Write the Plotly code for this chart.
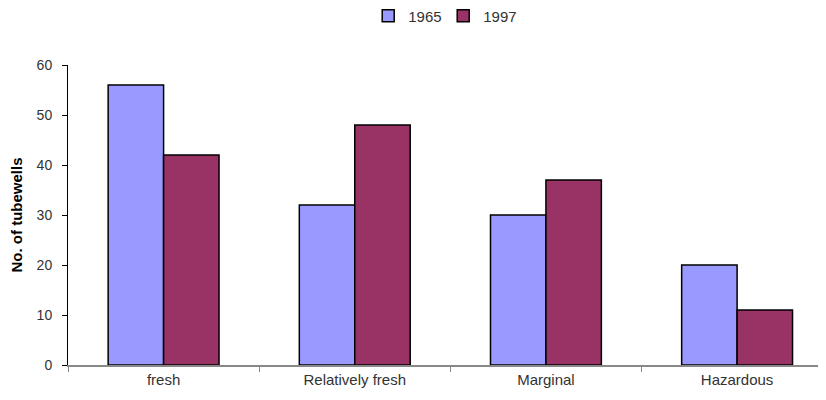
import plotly.graph_objects as go

categories = ["fresh", "Relatively fresh", "Marginal", "Hazardous"]
values_1965 = [56, 32, 30, 20]
values_1997 = [42, 48, 37, 11]
y_ticks = [0, 10, 20, 30, 40, 50, 60]

fig = go.Figure()
fig.add_trace(go.Bar(name="1965", x=categories, y=values_1965,
                     marker=dict(color="#9999FF", line=dict(color="#000000", width=1.5))))
fig.add_trace(go.Bar(name="1997", x=categories, y=values_1997,
                     marker=dict(color="#993366", line=dict(color="#000000", width=1.5))))

# page body has an 8px default margin, so the figure is drawn 8px smaller
fig.update_layout(
    width=818, height=392,
    barmode="group", bargap=0.42, bargroupgap=0,
    plot_bgcolor="white", paper_bgcolor="white",
    margin=dict(l=60, r=0, t=57, b=35, autoexpand=False),
    font=dict(family="Liberation Sans, Arial, sans-serif", size=15, color="#333333"),
    legend=dict(orientation="h", x=0.495, xanchor="center", y=1.163, yanchor="middle",
                yref="paper", font=dict(size=15, color="#333333"),
                itemwidth=30, tracegroupgap=0, bgcolor="rgba(0,0,0,0)",
                entrywidth=30, entrywidthmode="pixels"),
    showlegend=True,
)
fig.update_xaxes(
    range=[-0.5, 3.465], showline=True, linecolor="#888888", linewidth=1.5,
    ticks="outside", tickson="boundaries", ticklen=5, tickcolor="#888888",
    showgrid=False, tickfont=dict(size=15, color="#333333"), automargin=False,
)
fig.update_yaxes(
    range=[0, 60], tickvals=y_ticks, showline=True, linecolor="#000000", linewidth=1,
    ticks="outside", ticklen=5, tickcolor="#000000", showgrid=False, zeroline=False,
    tickfont=dict(size=14, color="#333333"), automargin=False, ticklabelstandoff=7,
    title=dict(text="<b>No. of tubewells</b>", font=dict(size=15, color="#000000"), standoff=20),
)

fig.write_html("out.html")
